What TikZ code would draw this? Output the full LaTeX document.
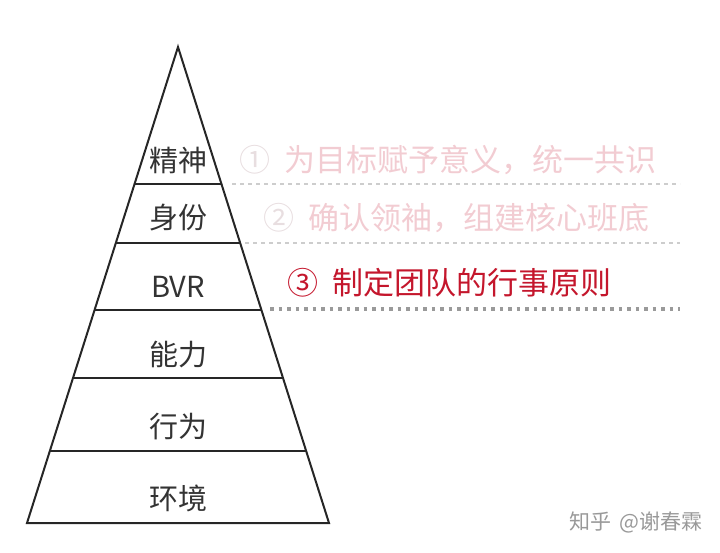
\documentclass[tikz,border=0pt]{standalone}
\usepackage{fontspec}
\setmainfont{Noto Sans CJK SC}
\usetikzlibrary{calc}
\definecolor{palepink}{RGB}{242,204,210}
\definecolor{paleround}{RGB}{232,222,224}
\definecolor{deepred}{RGB}{196,22,44}
\definecolor{sepgray}{RGB}{205,205,205}
\begin{document}
\begin{tikzpicture}[x=1pt,y=-1pt,
    lvl/.style={font=\fontsize{29}{29}\selectfont, text=black!80},
    note/.style={anchor=west, font=\fontsize{31}{31}\selectfont},
    sep/.style={sepgray, line width=1.2pt, dash pattern=on 4pt off 4pt}]
\useasboundingbox (0,0) rectangle (720,553);
% pyramid
\coordinate (top) at (178,47);
\coordinate (bl) at (27,523);
\coordinate (br) at (329,523);
\draw[line width=2pt, black!85, line join=miter] (bl) -- (top) -- (br) -- cycle;
\foreach \t in {0.2878,0.4118,0.5525,0.6954,0.8487}
  \draw[line width=2pt, black!85] ($(top)!\t!(bl)$) -- ($(top)!\t!(br)$);
% levels
\node[lvl] (jingshen) at (178,160) {精神};
\node[lvl] (shenfen) at (178,218) {身份};
\node[lvl] (bvr) at (178,287) {BVR};
\node[lvl] (nengli) at (178,355) {能力};
\node[lvl] (xingwei) at (178,427) {行为};
\node[lvl] (huanjing) at (178,498) {环境};
% notes
\node[note, text=palepink] (step1) at (236,160) {\textcolor{paleround}{①}\hspace{0.45em}为目标赋予意义，统一共识};
\draw[sep] (232,184) -- (680,184);
\node[note, text=palepink] (step2) at (260,218) {\textcolor{paleround}{②}\hspace{0.45em}确认领袖，组建核心班底};
\draw[sep] (245,243) -- (680,243);
\node[note, text=deepred] (step3) at (284,283) {③\hspace{0.45em}制定团队的行事原则};
\draw[sepgray!75!black, line width=3.5pt, dash pattern=on 3.5pt off 5pt] (270,309) -- (680,309);
% watermark
\node[font=\fontsize{21}{21}\selectfont, text=black!40] (mark) at (636,522) {知乎\hspace{0.35em}@谢春霖};
\end{tikzpicture}
\end{document}
